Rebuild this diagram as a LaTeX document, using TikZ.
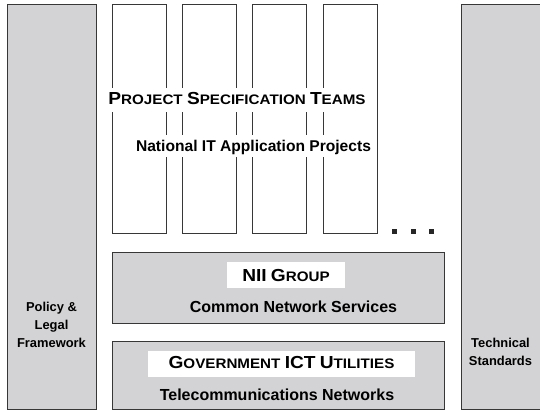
\documentclass[tikz,border=0pt]{standalone}
\usepackage{fontspec}
\setmainfont{Liberation Sans}
\newfontfamily\widefont{Liberation Sans}[FakeStretch=1.1]
\definecolor{panelgray}{RGB}{211,211,213}
\definecolor{edgegray}{RGB}{55,55,55}
% fake small caps: large initial, smaller remaining capitals
\newcommand\capsword[2]{{\fontsize{17.4}{18}\selectfont #1}{\fontsize{13.8}{15}\selectfont #2}}
\tikzset{
  pillar/.style={draw=edgegray, fill=panelgray, line width=1pt},
  teamcol/.style={draw=edgegray, fill=white, line width=1pt},
  layer/.style={draw=edgegray, fill=panelgray, line width=1pt},
  bodytext/.style={font=\bfseries\fontsize{16}{18}\selectfont, text=black, inner sep=0pt, anchor=base},
  sidetext/.style={font=\bfseries\fontsize{12.9}{18}\selectfont, text=black, align=center, inner sep=0pt},
  titlebox/.style={fill=white, text=black, font=\widefont\bfseries\fontsize{14}{16}\selectfont, anchor=base, inner ysep=0pt},
  dot/.style={fill=black!85, draw=none}
}
\begin{document}
\begin{tikzpicture}[x=1pt,y=-1pt]
  \useasboundingbox (0,0) rectangle (540,411);

  % side pillars
  \draw[pillar] (7,5) rectangle (96,409.5);
  \fill[panelgray] (461,5) rectangle (541,409.5);
  \draw[edgegray, line width=1pt] (541,5) -- (461,5) -- (461,409.5) -- (541,409.5);

  % project team columns
  \foreach \x in {112,182,252,323}
    \draw[teamcol] (\x,5) rectangle ++(54,229);

  % continuation marks
  \foreach \x in {392,410.5,429}
    \fill[dot] (\x,229) rectangle ++(5,5);

  % infrastructure layers
  \draw[layer] (112,253) rectangle (444,323);
  \draw[layer] (112,341) rectangle (444,409.5);

  % team titles
  \node[titlebox, inner xsep=3pt, text height=17pt, text depth=7pt] (pst) at (237,105)
    {\capsword{P}{ROJECT} \capsword{S}{PECIFICATION} \capsword{T}{EAMS}};
  \node[titlebox, inner xsep=2pt, text height=17pt, text depth=5pt, font=\normalfont\bfseries\fontsize{15.6}{18}\selectfont] (nitap) at (253.5,152)
    {National IT Application Projects};

  % layer titles
  \node[titlebox, inner xsep=0pt, minimum width=118pt, text height=20pt, text depth=6pt] (nii) at (286,282)
    {\capsword{NII}{} \capsword{G}{ROUP}};
  \node[bodytext] (cns) at (293.5,312) {Common Network Services};
  \node[titlebox, inner xsep=0pt, minimum width=267pt, text height=17pt, text depth=9pt] (gict) at (281.5,368)
    {\capsword{G}{OVERNMENT} \capsword{ICT}{} \capsword{U}{TILITIES}};
  \node[bodytext] (tn) at (277,400) {Telecommunications Networks};

  % pillar labels
  \node[sidetext, anchor=base] (plf) at (51.5,347) {Policy \&\\Legal\\Framework};
  \node[sidetext, anchor=base] (ts) at (500.5,365) {Technical\\Standards};
\end{tikzpicture}
\end{document}
